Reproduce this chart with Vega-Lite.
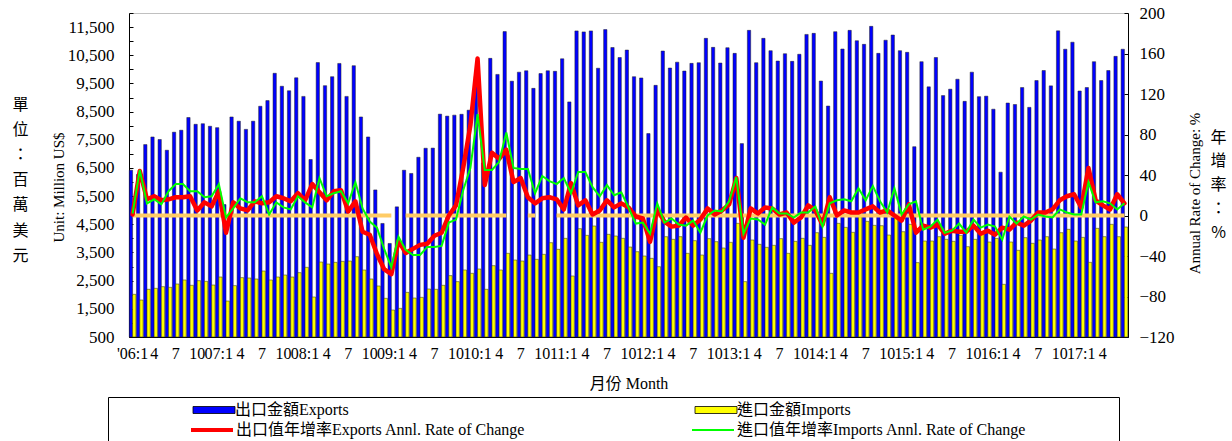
{
  "$schema": "https://vega.github.io/schema/vega-lite/v6.json",
  "width": 999,
  "height": 324,
  "autosize": {"type": "none"},
  "padding": {"left": 129, "top": 13, "right": 104, "bottom": 104},
  "background": "white",
  "config": {
    "font": "Liberation Serif, Noto Sans CJK TC",
    "view": {"stroke": "#c0c0c0", "strokeWidth": 1},
    "axis": {"grid": false, "domainColor": "black", "domainWidth": 1, "tickColor": "black", "labelColor": "black", "titleColor": "black", "titleFontWeight": "normal", "labelFont": "Liberation Serif", "titleFont": "Liberation Serif, Noto Sans CJK TC"},
    "legend": {"labelFontSize": 16, "labelFont": "Liberation Serif, Noto Sans CJK TC", "labelColor": "black", "labelLimit": 500, "symbolSize": 100}
  },
  "data": {"values": [
    {"month":"2006-01","exports":6420,"imports":2015,"exp_rate":1,"imp_rate":2,"zero":0},
    {"month":"2006-02","exports":6270,"imports":1813,"exp_rate":44,"imp_rate":45,"zero":0},
    {"month":"2006-03","exports":7330,"imports":2193,"exp_rate":16,"imp_rate":12,"zero":0},
    {"month":"2006-04","exports":7600,"imports":2228,"exp_rate":19,"imp_rate":16,"zero":0},
    {"month":"2006-05","exports":7510,"imports":2287,"exp_rate":15,"imp_rate":11,"zero":0},
    {"month":"2006-06","exports":7130,"imports":2263,"exp_rate":16,"imp_rate":24,"zero":0},
    {"month":"2006-07","exports":7770,"imports":2382,"exp_rate":18,"imp_rate":31,"zero":0},
    {"month":"2006-08","exports":7840,"imports":2524,"exp_rate":18,"imp_rate":31,"zero":0},
    {"month":"2006-09","exports":8290,"imports":2335,"exp_rate":19,"imp_rate":24,"zero":0},
    {"month":"2006-10","exports":8050,"imports":2500,"exp_rate":5,"imp_rate":24,"zero":0},
    {"month":"2006-11","exports":8070,"imports":2476,"exp_rate":13,"imp_rate":18,"zero":0},
    {"month":"2006-12","exports":7980,"imports":2346,"exp_rate":9,"imp_rate":19,"zero":0},
    {"month":"2007-01","exports":7930,"imports":2630,"exp_rate":24,"imp_rate":31,"zero":0},
    {"month":"2007-02","exports":5200,"imports":1777,"exp_rate":-17,"imp_rate":-2,"zero":0},
    {"month":"2007-03","exports":8310,"imports":2323,"exp_rate":13,"imp_rate":7,"zero":0},
    {"month":"2007-04","exports":8160,"imports":2607,"exp_rate":7,"imp_rate":17,"zero":0},
    {"month":"2007-05","exports":7870,"imports":2595,"exp_rate":5,"imp_rate":13,"zero":0},
    {"month":"2007-06","exports":8160,"imports":2559,"exp_rate":14,"imp_rate":13,"zero":0},
    {"month":"2007-07","exports":8690,"imports":2843,"exp_rate":12,"imp_rate":19,"zero":0},
    {"month":"2007-08","exports":8890,"imports":2524,"exp_rate":13,"imp_rate":1,"zero":0},
    {"month":"2007-09","exports":9860,"imports":2630,"exp_rate":19,"imp_rate":13,"zero":0},
    {"month":"2007-10","exports":9400,"imports":2701,"exp_rate":17,"imp_rate":8,"zero":0},
    {"month":"2007-11","exports":9240,"imports":2630,"exp_rate":14,"imp_rate":6,"zero":0},
    {"month":"2007-12","exports":9700,"imports":2784,"exp_rate":22,"imp_rate":19,"zero":0},
    {"month":"2008-01","exports":9040,"imports":2973,"exp_rate":15,"imp_rate":13,"zero":0},
    {"month":"2008-02","exports":6800,"imports":1920,"exp_rate":31,"imp_rate":8,"zero":0},
    {"month":"2008-03","exports":10240,"imports":3162,"exp_rate":23,"imp_rate":37,"zero":0},
    {"month":"2008-04","exports":9420,"imports":3091,"exp_rate":15,"imp_rate":19,"zero":0},
    {"month":"2008-05","exports":9740,"imports":3150,"exp_rate":24,"imp_rate":22,"zero":0},
    {"month":"2008-06","exports":10210,"imports":3185,"exp_rate":25,"imp_rate":24,"zero":0},
    {"month":"2008-07","exports":9040,"imports":3197,"exp_rate":4,"imp_rate":12,"zero":0},
    {"month":"2008-08","exports":10130,"imports":3351,"exp_rate":14,"imp_rate":33,"zero":0},
    {"month":"2008-09","exports":8310,"imports":2878,"exp_rate":-16,"imp_rate":7,"zero":0},
    {"month":"2008-10","exports":7600,"imports":2559,"exp_rate":-19,"imp_rate":-6,"zero":0},
    {"month":"2008-11","exports":5720,"imports":2311,"exp_rate":-38,"imp_rate":-12,"zero":0},
    {"month":"2008-12","exports":4530,"imports":1873,"exp_rate":-53,"imp_rate":-33,"zero":0},
    {"month":"2009-01","exports":3820,"imports":1458,"exp_rate":-58,"imp_rate":-51,"zero":0},
    {"month":"2009-02","exports":5120,"imports":1517,"exp_rate":-25,"imp_rate":-21,"zero":null},
    {"month":"2009-03","exports":6420,"imports":2085,"exp_rate":-37,"imp_rate":-34,"zero":0},
    {"month":"2009-04","exports":6305,"imports":1884,"exp_rate":-33,"imp_rate":-39,"zero":0},
    {"month":"2009-05","exports":6880,"imports":1908,"exp_rate":-29,"imp_rate":-39,"zero":0},
    {"month":"2009-06","exports":7200,"imports":2204,"exp_rate":-28,"imp_rate":-31,"zero":0},
    {"month":"2009-07","exports":7205,"imports":2193,"exp_rate":-20,"imp_rate":-31,"zero":0},
    {"month":"2009-08","exports":8410,"imports":2335,"exp_rate":-17,"imp_rate":-30,"zero":0},
    {"month":"2009-09","exports":8340,"imports":2678,"exp_rate":0,"imp_rate":-7,"zero":0},
    {"month":"2009-10","exports":8375,"imports":2465,"exp_rate":10,"imp_rate":-4,"zero":0},
    {"month":"2009-11","exports":8405,"imports":2879,"exp_rate":47,"imp_rate":25,"zero":0},
    {"month":"2009-12","exports":8550,"imports":2760,"exp_rate":89,"imp_rate":47,"zero":0},
    {"month":"2010-01","exports":9750,"imports":2914,"exp_rate":155,"imp_rate":100,"zero":0},
    {"month":"2010-02","exports":6680,"imports":2193,"exp_rate":30,"imp_rate":45,"zero":0},
    {"month":"2010-03","exports":10390,"imports":3032,"exp_rate":62,"imp_rate":45,"zero":0},
    {"month":"2010-04","exports":9820,"imports":2879,"exp_rate":56,"imp_rate":53,"zero":0},
    {"month":"2010-05","exports":11340,"imports":3470,"exp_rate":65,"imp_rate":82,"zero":0},
    {"month":"2010-06","exports":9580,"imports":3233,"exp_rate":33,"imp_rate":47,"zero":null},
    {"month":"2010-07","exports":9900,"imports":3197,"exp_rate":37,"imp_rate":46,"zero":null},
    {"month":"2010-08","exports":9950,"imports":3410,"exp_rate":18,"imp_rate":46,"zero":0},
    {"month":"2010-09","exports":9325,"imports":3257,"exp_rate":12,"imp_rate":22,"zero":0},
    {"month":"2010-10","exports":9850,"imports":3434,"exp_rate":17,"imp_rate":39,"zero":null},
    {"month":"2010-11","exports":9950,"imports":3848,"exp_rate":18,"imp_rate":34,"zero":null},
    {"month":"2010-12","exports":9930,"imports":3612,"exp_rate":16,"imp_rate":31,"zero":0},
    {"month":"2011-01","exports":10375,"imports":4002,"exp_rate":6,"imp_rate":37,"zero":0},
    {"month":"2011-02","exports":8845,"imports":2666,"exp_rate":32,"imp_rate":22,"zero":0},
    {"month":"2011-03","exports":11365,"imports":4345,"exp_rate":10,"imp_rate":43,"zero":0},
    {"month":"2011-04","exports":11330,"imports":4108,"exp_rate":15,"imp_rate":43,"zero":0},
    {"month":"2011-05","exports":11365,"imports":4440,"exp_rate":1,"imp_rate":28,"zero":0},
    {"month":"2011-06","exports":10040,"imports":3860,"exp_rate":5,"imp_rate":19,"zero":0},
    {"month":"2011-07","exports":11410,"imports":4144,"exp_rate":15,"imp_rate":30,"zero":0},
    {"month":"2011-08","exports":10775,"imports":4085,"exp_rate":8,"imp_rate":20,"zero":0},
    {"month":"2011-09","exports":10420,"imports":4002,"exp_rate":12,"imp_rate":23,"zero":0},
    {"month":"2011-10","exports":10685,"imports":3694,"exp_rate":8,"imp_rate":8,"zero":0},
    {"month":"2011-11","exports":9740,"imports":3528,"exp_rate":-1,"imp_rate":-8,"zero":0},
    {"month":"2011-12","exports":9695,"imports":3375,"exp_rate":-3,"imp_rate":-7,"zero":0},
    {"month":"2012-01","exports":7720,"imports":3292,"exp_rate":-26,"imp_rate":-18,"zero":0},
    {"month":"2012-02","exports":9432,"imports":2996,"exp_rate":6,"imp_rate":12,"zero":0},
    {"month":"2012-03","exports":10650,"imports":4061,"exp_rate":-6,"imp_rate":-7,"zero":0},
    {"month":"2012-04","exports":10047,"imports":3967,"exp_rate":-11,"imp_rate":-3,"zero":0},
    {"month":"2012-05","exports":10255,"imports":4061,"exp_rate":-10,"imp_rate":-9,"zero":0},
    {"month":"2012-06","exports":9940,"imports":3470,"exp_rate":-2,"imp_rate":-10,"zero":0},
    {"month":"2012-07","exports":10212,"imports":3920,"exp_rate":-10,"imp_rate":-5,"zero":0},
    {"month":"2012-08","exports":10236,"imports":3410,"exp_rate":-4,"imp_rate":-17,"zero":0},
    {"month":"2012-09","exports":11100,"imports":3991,"exp_rate":7,"imp_rate":0,"zero":0},
    {"month":"2012-10","exports":10780,"imports":3884,"exp_rate":1,"imp_rate":5,"zero":0},
    {"month":"2012-11","exports":10224,"imports":3659,"exp_rate":5,"imp_rate":4,"zero":0},
    {"month":"2012-12","exports":10768,"imports":3860,"exp_rate":11,"imp_rate":14,"zero":0},
    {"month":"2013-01","exports":10567,"imports":4534,"exp_rate":37,"imp_rate":38,"zero":0},
    {"month":"2013-02","exports":7365,"imports":2465,"exp_rate":-22,"imp_rate":-18,"zero":0},
    {"month":"2013-03","exports":11384,"imports":3943,"exp_rate":7,"imp_rate":-3,"zero":0},
    {"month":"2013-04","exports":10236,"imports":3790,"exp_rate":2,"imp_rate":-4,"zero":0},
    {"month":"2013-05","exports":11100,"imports":3683,"exp_rate":8,"imp_rate":-9,"zero":0},
    {"month":"2013-06","exports":10662,"imports":3754,"exp_rate":7,"imp_rate":8,"zero":0},
    {"month":"2013-07","exports":10295,"imports":3991,"exp_rate":1,"imp_rate":2,"zero":0},
    {"month":"2013-08","exports":10555,"imports":3470,"exp_rate":3,"imp_rate":2,"zero":0},
    {"month":"2013-09","exports":10283,"imports":3896,"exp_rate":-7,"imp_rate":-2,"zero":0},
    {"month":"2013-10","exports":10535,"imports":4002,"exp_rate":-2,"imp_rate":3,"zero":0},
    {"month":"2013-11","exports":11240,"imports":3754,"exp_rate":10,"imp_rate":3,"zero":0},
    {"month":"2013-12","exports":11277,"imports":4203,"exp_rate":5,"imp_rate":9,"zero":0},
    {"month":"2014-01","exports":9585,"imports":4037,"exp_rate":-9,"imp_rate":-11,"zero":0},
    {"month":"2014-02","exports":8698,"imports":2760,"exp_rate":18,"imp_rate":12,"zero":0},
    {"month":"2014-03","exports":11337,"imports":4534,"exp_rate":0,"imp_rate":15,"zero":0},
    {"month":"2014-04","exports":10722,"imports":4392,"exp_rate":5,"imp_rate":16,"zero":0},
    {"month":"2014-05","exports":11384,"imports":4215,"exp_rate":3,"imp_rate":14,"zero":0},
    {"month":"2014-06","exports":11017,"imports":4771,"exp_rate":3,"imp_rate":27,"zero":0},
    {"month":"2014-07","exports":10887,"imports":4605,"exp_rate":6,"imp_rate":15,"zero":0},
    {"month":"2014-08","exports":11526,"imports":4463,"exp_rate":9,"imp_rate":29,"zero":0},
    {"month":"2014-09","exports":10568,"imports":4451,"exp_rate":3,"imp_rate":14,"zero":0},
    {"month":"2014-10","exports":11035,"imports":4120,"exp_rate":5,"imp_rate":3,"zero":0},
    {"month":"2014-11","exports":11219,"imports":4770,"exp_rate":0,"imp_rate":27,"zero":0},
    {"month":"2014-12","exports":10663,"imports":4238,"exp_rate":-5,"imp_rate":1,"zero":0},
    {"month":"2015-01","exports":10604,"imports":4499,"exp_rate":11,"imp_rate":11,"zero":0},
    {"month":"2015-02","exports":7254,"imports":3140,"exp_rate":-17,"imp_rate":14,"zero":0},
    {"month":"2015-03","exports":10272,"imports":3907,"exp_rate":-10,"imp_rate":-14,"zero":0},
    {"month":"2015-04","exports":9380,"imports":3907,"exp_rate":-12,"imp_rate":-11,"zero":0},
    {"month":"2015-05","exports":10420,"imports":4061,"exp_rate":-9,"imp_rate":-4,"zero":0},
    {"month":"2015-06","exports":9070,"imports":3967,"exp_rate":-18,"imp_rate":-17,"zero":0},
    {"month":"2015-07","exports":9296,"imports":3896,"exp_rate":-15,"imp_rate":-15,"zero":0},
    {"month":"2015-08","exports":9650,"imports":4108,"exp_rate":-16,"imp_rate":-8,"zero":0},
    {"month":"2015-09","exports":8864,"imports":3706,"exp_rate":-16,"imp_rate":-17,"zero":0},
    {"month":"2015-10","exports":9900,"imports":3967,"exp_rate":-10,"imp_rate":-4,"zero":0},
    {"month":"2015-11","exports":9030,"imports":4200,"exp_rate":-18,"imp_rate":-12,"zero":0},
    {"month":"2015-12","exports":9048,"imports":3872,"exp_rate":-15,"imp_rate":-9,"zero":0},
    {"month":"2016-01","exports":8586,"imports":4000,"exp_rate":-19,"imp_rate":-11,"zero":0},
    {"month":"2016-02","exports":6350,"imports":2370,"exp_rate":-12,"imp_rate":-24,"zero":0},
    {"month":"2016-03","exports":8805,"imports":3872,"exp_rate":-14,"imp_rate":-1,"zero":0},
    {"month":"2016-04","exports":8752,"imports":3576,"exp_rate":-7,"imp_rate":-8,"zero":0},
    {"month":"2016-05","exports":9355,"imports":4026,"exp_rate":-10,"imp_rate":-1,"zero":0},
    {"month":"2016-06","exports":8651,"imports":3825,"exp_rate":-5,"imp_rate":-4,"zero":0},
    {"month":"2016-07","exports":9603,"imports":3943,"exp_rate":3,"imp_rate":1,"zero":0},
    {"month":"2016-08","exports":9958,"imports":4061,"exp_rate":3,"imp_rate":-1,"zero":0},
    {"month":"2016-09","exports":9414,"imports":3623,"exp_rate":6,"imp_rate":-2,"zero":0},
    {"month":"2016-10","exports":11366,"imports":4203,"exp_rate":15,"imp_rate":6,"zero":0},
    {"month":"2016-11","exports":10715,"imports":4322,"exp_rate":19,"imp_rate":3,"zero":0},
    {"month":"2016-12","exports":10964,"imports":3907,"exp_rate":21,"imp_rate":1,"zero":0},
    {"month":"2017-01","exports":9231,"imports":4037,"exp_rate":8,"imp_rate":1,"zero":0},
    {"month":"2017-02","exports":9355,"imports":3150,"exp_rate":47,"imp_rate":33,"zero":0},
    {"month":"2017-03","exports":10272,"imports":4357,"exp_rate":15,"imp_rate":13,"zero":0},
    {"month":"2017-04","exports":9603,"imports":4061,"exp_rate":10,"imp_rate":14,"zero":0},
    {"month":"2017-05","exports":9958,"imports":4499,"exp_rate":6,"imp_rate":12,"zero":0},
    {"month":"2017-06","exports":10461,"imports":4061,"exp_rate":21,"imp_rate":6,"zero":0},
    {"month":"2017-07","exports":10715,"imports":4404,"exp_rate":12,"imp_rate":12,"zero":0}
  ]},
  "encoding": {
    "x": {
      "field": "month", "type": "ordinal",
      "scale": {"paddingInner": 0.08, "paddingOuter": 0.04},
      "axis": {
        "title": "月份 Month", "titleFontSize": 16, "titleY": 46, "titleBaseline": "middle",
        "labelExpr": "datum.value=='2017-07' ? '' : slice(datum.value,5)=='01' ? (datum.value=='2006-01' ? \"'06:1\" : slice(datum.value,2,4)+':1') : slice(datum.value,5)=='04' ? '4' : slice(datum.value,5)=='07' ? '7' : slice(datum.value,5)=='10' ? '10' : ''",
        "labelAngle": 0, "labelOverlap": false, "labelFontSize": 16, "labelPadding": 8, "ticks": false, "labelBaseline": "top", "labelAlign": "center"
      }
    }
  },
  "layer": [
    {
      "transform": [{"fold": ["exports", "imports"], "as": ["series", "value"]}],
      "mark": {"type": "bar", "stroke": "#222222", "strokeWidth": 0.5},
      "encoding": {
        "xOffset": {"field": "series", "type": "nominal", "scale": {"domain": ["exports", "imports"], "paddingInner": 0, "paddingOuter": 0}},
        "y": {
          "field": "value", "type": "quantitative",
          "scale": {"domain": [500, 12000], "nice": false, "zero": false},
          "axis": {
            "orient": "left",
            "values": [500,1000,1500,2000,2500,3000,3500,4000,4500,5000,5500,6000,6500,7000,7500,8000,8500,9000,9500,10000,10500,11000,11500,12000],
            "labelExpr": "datum.value % 1000 == 500 ? format(datum.value, ',') : ''",
            "tickSize": -4, "labelPadding": 19, "labelFontSize": 17,
            "title": "Unit: Million US$", "titleFontSize": 15, "titleX": -71, "titleY": 174, "titleAngle": 270, "titleAlign": "center", "titleBaseline": "middle"
          }
        },
        "y2": {"datum": 500},
        "fill": {
          "field": "series", "type": "nominal",
          "scale": {"domain": ["exports", "imports"], "range": ["#0000ff", "#ffff00"]},
          "legend": {
            "orient": "none", "legendX": 2, "legendY": 389, "columns": 2, "title": null,
            "padding": 0, "symbolType": "M-4.2,-0.7H4.2V0.7H-4.2Z", "symbolStrokeColor": "#000000", "symbolStrokeWidth": 0.8,
            "symbolOffset": 75, "labelOffset": 13, "columnPadding": 284,
            "labelExpr": "datum.value=='exports' ? '出口金額Exports' : '進口金額Imports'"
          }
        }
      }
    },
    {
      "layer": [
        {
          "mark": {"type": "line", "color": "#ffcc66", "strokeWidth": 4, "invalid": "break-paths-filter-domains"},
          "encoding": {
            "y": {
              "field": "zero", "type": "quantitative",
              "scale": {"domain": [-120, 200], "nice": false, "zero": false},
              "axis": {
                "orient": "right", "values": [-120,-80,-40,0,40,80,120,160,200],
                "tickSize": -4, "labelPadding": 15, "labelFontSize": 17,
                "title": "Annual Rate of Change: %", "titleFontSize": 15, "titleX": 66, "titleY": 180, "titleAngle": 270, "titleAlign": "center", "titleBaseline": "middle"
              }
            }
          }
        },
        {
          "mark": {"type": "line", "strokeWidth": 4.5, "strokeJoin": "round", "strokeCap": "round"},
          "encoding": {
            "y": {"field": "exp_rate", "type": "quantitative", "scale": {"domain": [-120, 200], "nice": false, "zero": false}},
            "stroke": {
              "datum": "exp_rate", "type": "nominal",
              "scale": {"domain": ["exp_rate", "imp_rate"], "range": ["#ff0000", "#00ff00"]},
              "legend": {
                "orient": "none", "legendX": -21, "legendY": 384, "columns": 2,
                "title": " ", "titleOrient": "right", "titlePadding": 68,
                "padding": 25, "strokeColor": "black",
                "symbolType": "M-4.2,0H4.2", "symbolStrokeWidth": {"expr": "datum.value=='exp_rate' ? 4 : 2"}, "symbolFillColor": "transparent",
                "symbolOffset": 71, "labelOffset": 16, "columnPadding": 108,
                "labelExpr": "datum.value=='exp_rate' ? '出口值年增率Exports Annl. Rate of Change' : '進口值年增率Imports Annl. Rate of Change'"
              }
            }
          }
        },
        {
          "mark": {"type": "line", "strokeWidth": 2},
          "encoding": {
            "y": {"field": "imp_rate", "type": "quantitative", "scale": {"domain": [-120, 200], "nice": false, "zero": false}},
            "stroke": {"datum": "imp_rate", "type": "nominal"}
          }
        }
      ]
    },
    {
      "mark": {"type": "point", "opacity": 0},
      "encoding": {
        "y": {
          "datum": 1000, "type": "quantitative",
          "scale": {"domain": [500, 12000], "nice": false, "zero": false},
          "axis": {"orient": "left", "labels": false, "ticks": false, "domain": false,
            "title": ["單", "位", "：", "百", "萬", "美", "元"], "titleAngle": 0, "titleX": -109, "titleY": 91,
            "titleBaseline": "middle", "titleAlign": "center", "titleFontSize": 16, "titleLineHeight": 25.2, "titleFont": "Noto Sans CJK TC"}
        }
      }
    },
    {
      "mark": {"type": "point", "opacity": 0},
      "encoding": {
        "y": {
          "datum": 0, "type": "quantitative",
          "scale": {"domain": [-120, 200], "nice": false, "zero": false},
          "axis": {"orient": "right", "labels": false, "ticks": false, "domain": false,
            "title": ["年", "增", "率", "：", "%"], "titleAngle": 0, "titleX": 90, "titleY": 124,
            "titleBaseline": "middle", "titleAlign": "center", "titleFontSize": 16, "titleLineHeight": 23.8, "titleFont": "Noto Sans CJK TC"}
        }
      }
    }
  ],
  "resolve": {"scale": {"y": "independent"}}
}
